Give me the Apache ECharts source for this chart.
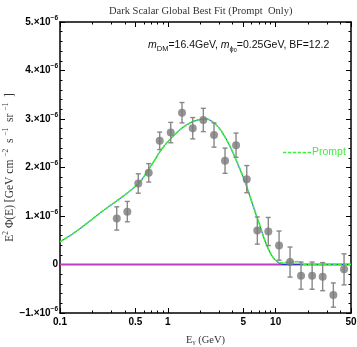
<!DOCTYPE html>
<html>
<head>
<meta charset="utf-8">
<script src="https://cdn.jsdelivr.net/npm/echarts@6/dist/echarts.min.js"></script>
<style>
  html, body { margin: 0; padding: 0; background: #fff; }
  #main { width: 357px; height: 347px; }
</style>
</head>
<body>
<div id="main"></div>
<script>
// flux values are in units of 1e-6 GeV cm^-2 s^-1 sr^-1
const pointE = [0.336, 0.421, 0.532, 0.665, 0.841, 1.064, 1.354, 1.702, 2.135, 2.683, 3.394, 4.294,
  5.395, 6.764, 8.55, 10.76, 13.6, 17.2, 21.8, 27.3, 34.3, 43.1];
const pointFlux = [0.95, 1.09, 1.67, 1.89, 2.55, 2.72, 3.13, 2.81, 2.98, 2.67, 2.14, 2.46,
  1.76, 0.70, 0.68, 0.39, 0.05, -0.23, -0.23, -0.25, -0.63, -0.10];
const pointErr = [0.24, 0.21, 0.20, 0.19, 0.18, 0.21, 0.21, 0.22, 0.24, 0.25, 0.26, 0.25,
  0.28, 0.28, 0.29, 0.30, 0.31, 0.28, 0.28, 0.29, 0.25, 0.32];

const curveE = [0.1, 0.125, 0.153, 0.19, 0.235, 0.29, 0.36, 0.43, 0.5, 0.57, 0.637, 0.74, 0.846, 0.97,
  1.125, 1.3, 1.497, 1.72, 1.99, 2.3, 2.644, 2.95, 3.27, 3.65, 4.05, 4.5, 5.01, 5.4, 5.79, 6.2, 6.68,
  7.2, 7.7, 8.25, 8.87, 9.5, 10.24, 11, 11.78, 12.7, 13.6, 15, 16.3, 16.9, 17.3, 20, 30, 50];
const promptFlux = [0.47, 0.60, 0.74, 0.90, 1.06, 1.21, 1.36, 1.49, 1.61, 1.74, 1.90, 2.12, 2.33, 2.50,
  2.65, 2.78, 2.88, 2.95, 2.99, 3.00, 2.93, 2.83, 2.69, 2.50, 2.29, 2.05, 1.80, 1.60, 1.40, 1.20, 0.99,
  0.78, 0.58, 0.40, 0.25, 0.14, 0.07, 0.04, 0.035, 0.045, 0.05, 0.055, 0.06, 0.05, 0, 0, 0, 0];
const totalFlux = [0.47, 0.60, 0.74, 0.90, 1.06, 1.21, 1.36, 1.49, 1.61, 1.74, 1.90, 2.12, 2.33, 2.50,
  2.65, 2.78, 2.88, 2.95, 2.99, 3.00, 2.93, 2.83, 2.69, 2.50, 2.29, 2.05, 1.80, 1.60, 1.40, 1.20, 0.99,
  0.78, 0.58, 0.40, 0.25, 0.14, 0.06, 0.02, 0, 0, 0, 0, 0, 0, 0, 0, 0, 0];
const zeroE = [0.1, 50];
const zeroFlux = [0, 0];

const xMajor = [0.1, 0.5, 1, 5, 10, 50];
const xMinor = [0.2, 0.3, 0.4, 0.6, 0.7, 0.8, 0.9, 2, 3, 4, 6, 7, 8, 9, 20, 30, 40];

const frameLine = { lineStyle: { color: "#000", width: 1.5 } };
const serif = "Liberation Serif";
const green = "#3cf03c";

function xAxisCfg(pos, ticks, len, withLabels) {
  return {
    type: "log",
    position: pos,
    min: 0.1,
    max: 50,
    splitLine: { show: false },
    axisLine: { show: len > 3, onZero: false, ...frameLine },
    axisTick: { inside: true, length: len, customValues: ticks, lineStyle: { color: "#000", width: 1 } },
    axisLabel: {
      show: withLabels,
      customValues: ticks,
      margin: 4,
      color: "#000",
      fontSize: 10,
      fontWeight: "bold",
      fontFamily: "Liberation Sans",
      formatter: v => String(v),
    },
  };
}

function yAxisCfg(pos, withLabels) {
  return {
    type: "value",
    position: pos,
    min: -1,
    max: 5,
    interval: 1,
    splitLine: { show: false },
    axisLine: { show: true, onZero: false, ...frameLine },
    axisTick: { inside: true, length: 5, lineStyle: { color: "#000", width: 1 } },
    minorTick: { show: true, splitNumber: 5, length: 2.5, lineStyle: { color: "#000", width: 1 } },
    axisLabel: {
      show: withLabels,
      margin: 2,
      formatter: v => {
        if (v === 0) return "{b|0}";
        return "{b|" + (v < 0 ? "\u2212" : "") + Math.abs(v) + ".\u00d710}{s|\u22126}";
      },
      rich: {
        b: { fontSize: 10, fontWeight: "bold", color: "#000", fontFamily: "Liberation Sans" },
        s: { fontSize: 6.5, fontWeight: "bold", color: "#000", fontFamily: "Liberation Sans", padding: [0, 0, 8, 0] },
      },
    },
  };
}

const xAxes = [
  xAxisCfg("bottom", xMajor, 5, true),
  xAxisCfg("bottom", xMinor, 2.5, false),
  xAxisCfg("top", xMajor, 5, false),
  xAxisCfg("top", xMinor, 2.5, false),
];
xAxes[0].name = "{t|E}{sub|\u03b3}{t| (GeV)}";
xAxes[0].nameLocation = "middle";
xAxes[0].nameGap = 21;
xAxes[0].nameMoveOverlap = false;
xAxes[0].nameTextStyle = {
  rich: {
    t: { fontFamily: serif, fontSize: 10.5, color: "#333" },
    sub: { fontFamily: serif, fontSize: 7, color: "#333", padding: [5, 0, 0, 0] },
  },
};

const yAxes = [yAxisCfg("left", true), yAxisCfg("right", false)];
yAxes[0].name = "{t|E}{sup|2}{t| \u03a6(E) [GeV cm }{sup|\u22122}{t|  s }{sup|\u22121}{t|  sr }{sup|\u22121}{t|  ]}";
yAxes[0].nameLocation = "middle";
yAxes[0].nameGap = 42;
yAxes[0].nameMoveOverlap = false;
yAxes[0].nameTextStyle = {
  rich: {
    t: { fontFamily: serif, fontSize: 11.5, color: "#333" },
    sup: { fontFamily: serif, fontSize: 7.5, color: "#333", padding: [0, 0, 8, 0] },
  },
};

// dashed legend mark, six dashes across 28 x 1.6
const dashIcon = "path://M0 0h3.4v1.6h-3.4z M4.9 0h3.4v1.6h-3.4z M9.8 0h3.4v1.6h-3.4z " +
  "M14.7 0h3.4v1.6h-3.4z M19.6 0h3.4v1.6h-3.4z M24.5 0h3.5v1.6h-3.5z";

const option = {
  animation: false,
  backgroundColor: "#fff",
  title: {
    text: "Dark Scalar Global Best Fit (Prompt  Only)",
    left: 104,
    top: 1,
    textStyle: { fontFamily: serif, fontSize: 10.5, fontWeight: "normal", color: "#333" },
  },
  grid: { left: 60, top: 22, right: 6, bottom: 34, containLabel: false, outerBoundsMode: "none" },
  legend: {
    data: [{ name: "Prompt", icon: dashIcon }],
    left: 283,
    top: 147,
    padding: 0,
    itemWidth: 28,
    itemHeight: 1.6,
    itemGap: 0,
    itemStyle: { color: green },
    textStyle: { color: green, fontSize: 10.5, fontFamily: "Liberation Sans", padding: [0, 0, 0, -4] },
  },
  graphic: [
    {
      type: "text",
      left: 148,
      top: 40,
      style: {
        text: "{i|m}{sub|DM}{t|=16.4GeV, }{i|m}{sub|\u03d5}{sub2|0}{t|=0.25GeV, BF=12.2}",
        rich: {
          t: { fontSize: 10.5, fontFamily: "Liberation Sans", fill: "#111" },
          i: { fontSize: 10.5, fontFamily: "Liberation Sans", fontStyle: "italic", fill: "#111" },
          sub: { fontSize: 7.5, fontFamily: "Liberation Sans", fill: "#111", padding: [6, 0, 0, 0] },
          sub2: { fontSize: 5.5, fontFamily: "Liberation Sans", fill: "#111", padding: [10, 0, 0, 0] },
        },
      },
    },
  ],
  xAxis: xAxes,
  yAxis: yAxes,
  series: [
    {
      name: "zero",
      type: "line",
      data: zeroE.map((e, i) => [e, zeroFlux[i]]),
      symbol: "none",
      lineStyle: { color: "#c03cc0", width: 2 },
      z: 2,
    },
    {
      name: "Total",
      type: "line",
      data: curveE.map((e, i) => [e, totalFlux[i]]),
      symbol: "none",
      smooth: 0.3,
      lineStyle: { color: "#2030e0", width: 1 },
      z: 3,
    },
    {
      name: "Prompt",
      type: "line",
      data: curveE.map((e, i) => [e, promptFlux[i]]),
      symbol: "none",
      smooth: 0.3,
      itemStyle: { color: green },
      lineStyle: { color: green, width: 1.7, type: [4, 1] },
      z: 4,
    },
    {
      name: "errors",
      type: "custom",
      data: pointE.map((e, i) => [e, pointFlux[i] - pointErr[i], pointFlux[i] + pointErr[i]]),
      encode: { x: 0, y: [1, 2] },
      renderItem: (params, api) => {
        const lo = api.coord([api.value(0), api.value(1)]);
        const hi = api.coord([api.value(0), api.value(2)]);
        const w = 2.5;
        const style = { stroke: "#888", lineWidth: 1.4 };
        return {
          type: "group",
          children: [
            { type: "line", shape: { x1: hi[0], y1: hi[1], x2: lo[0], y2: lo[1] }, style },
            { type: "line", shape: { x1: hi[0] - w, y1: hi[1], x2: hi[0] + w, y2: hi[1] }, style },
            { type: "line", shape: { x1: lo[0] - w, y1: lo[1], x2: lo[0] + w, y2: lo[1] }, style },
          ],
        };
      },
      z: 5,
    },
    {
      name: "data",
      type: "scatter",
      data: pointE.map((e, i) => [e, pointFlux[i]]),
      symbol: "circle",
      symbolSize: 8,
      itemStyle: { color: "#7a7a7a" },
      z: 6,
    },
  ],
};

const myChart = echarts.init(document.getElementById("main"));
myChart.setOption(option);
</script>
</body>
</html>
